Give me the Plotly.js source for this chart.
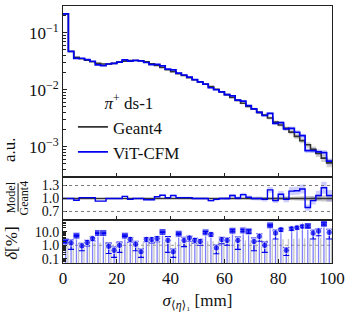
<!DOCTYPE html>
<html><head><meta charset="utf-8">
<script src="https://cdn.plot.ly/plotly-3.0.1.min.js"></script>
<style>html,body{margin:0;padding:0;background:#fff}#c{width:352px;height:313px}</style>
</head><body><div id="c"></div>
<script>
// bin centers (mm), bin width 2
const binCenters = [1,3,5,7,9,11,13,15,17,19,21,23,25,27,29,31,33,35,37,39,41,43,45,47,49,51,53,55,57,59,61,63,65,67,69,71,73,75,77,79,81,83,85,87,89,91,93,95,97,99];
// Geant4 normalised histogram (a.u.)
const geant4 = [0.215,0.047,0.037,0.035,0.033,0.031,0.029,0.0283,0.0283,0.029,
  0.0305,0.0318,0.0325,0.0327,0.0322,0.031,0.0285,0.0268,0.0245,0.0225,
  0.0208,0.0192,0.0178,0.0163,0.0150,0.0137,0.0125,0.0114,0.0102,0.0092,
  0.0082,0.0073,0.0065,0.0058,0.0051,0.0046,0.0040,0.0036,0.0032,0.0027,
  0.0024,0.0021,0.0018,0.00152,0.00128,0.00108,0.00090,0.00076,0.00063,0.00052];
// Model / Geant4 ratio
const ratio = [1.0,1.0,0.96,1.02,1.02,1.02,0.94,0.94,1.0,1.0,
  1.0,1.05,0.98,1.0,1.0,0.97,0.97,1.04,1.075,1.02,
  1.07,1.02,1.02,1.02,1.0,1.0,1.0,0.95,0.98,1.0,
  1.0,1.07,1.01,1.09,1.03,1.0,1.0,0.98,1.2,0.95,
  1.1,0.98,1.17,1.18,1.22,0.79,0.95,1.07,1.25,1.07];
// relative statistical uncertainties
const relErrG = [0.002,0.004,0.005,0.005,0.005,0.005,0.005,0.005,0.005,0.005,
  0.005,0.005,0.005,0.005,0.005,0.006,0.006,0.006,0.007,0.007,
  0.008,0.008,0.009,0.009,0.010,0.011,0.011,0.012,0.013,0.014,
  0.015,0.016,0.018,0.019,0.021,0.023,0.025,0.027,0.030,0.032,
  0.035,0.038,0.042,0.046,0.050,0.055,0.060,0.066,0.072,0.080];
const relErrM = [0.004,0.008,0.01,0.01,0.01,0.01,0.012,0.012,0.012,0.012,
  0.012,0.012,0.012,0.012,0.013,0.013,0.014,0.015,0.016,0.017,
  0.018,0.019,0.02,0.021,0.022,0.024,0.025,0.027,0.028,0.03,
  0.032,0.034,0.036,0.038,0.04,0.043,0.046,0.05,0.055,0.06,
  0.065,0.07,0.075,0.08,0.085,0.09,0.095,0.1,0.11,0.12];
// delta [%] per bin
const deltaPct = [1.9,1.5,5.1,0.9,1.6,3.1,7.9,7.9,0.85,0.43,
  1.0,5.1,2.7,1.2,0.33,2.7,2.6,3.1,9.4,2.3,
  0.33,7.1,2.3,3.4,2.3,1.9,8.9,6.3,0.64,2.6,
  2.3,11.8,2.3,12.3,10.5,1.9,4.5,1.0,29,7.9,
  14,0.43,16.5,19.5,24.5,26,7.9,11,38,8.9];
const deltaErr = [0.3,1.0,0.5,0.5,0.7,1.0,0.5,0.5,0.6,0.3,
  0.7,0.6,1.0,0.8,0.2,0.9,1.1,1.3,0.5,2.0,
  0.2,0.8,1.5,1.4,0.9,0.9,1.3,1.8,0.4,1.3,
  1.3,2,1.8,2,3,1.5,2.5,0.7,3,5,
  3.5,0.25,4,4,5,5,5,6,7,6];
const deltaSym = ['s','c','s','c','c','c','s','s','c','c',
  'c','s','c','c','c','c','c','c','s','c',
  'c','s','c','c','c','c','s','c','c','c',
  'c','s','c','s','s','c','c','c','s','c',
  'c','c','c','c','c','s','c','c','s','c'];
// Geant4 reference uncertainty level in delta panel [%]
const refLevel = [1.5,1.6,1.6,1.6,1.7,1.6,1.6,1.7,1.6,1.7,
  1.7,1.6,1.7,1.7,1.6,1.7,1.7,1.7,1.8,1.7,
  1.8,1.8,1.8,1.9,1.9,1.9,2.0,2.0,2.0,2.1,
  2.1,2.2,2.2,2.3,2.3,2.4,2.5,2.5,2.6,2.7,
  2.8,2.9,3.0,3.1,3.2,3.3,3.4,3.5,3.6,3.7];
const xTicks = [0,20,40,60,80,100];

const BLUE = '#0000ee';
const FONT = 'Liberation Serif, DejaVu Serif, serif';
const edges = binCenters.map(c => c - 1).concat([binCenters[binCenters.length-1] + 1]);
const stepY = a => a.concat([a[a.length-1]]);
const model = geant4.map((g,i) => g * ratio[i]);

const traces = [];
function band(lo, hi, color, xa, ya) {
  traces.push({x: edges, y: stepY(lo), mode:'lines', line:{shape:'hv', width:0, color:color}, xaxis:xa, yaxis:ya, showlegend:false, hoverinfo:'skip'});
  traces.push({x: edges, y: stepY(hi), mode:'lines', line:{shape:'hv', width:0, color:color}, fill:'tonexty', fillcolor:color, xaxis:xa, yaxis:ya, showlegend:false, hoverinfo:'skip'});
}
// main panel
band(geant4.map((g,i)=>g*(1-relErrG[i]*2)), geant4.map((g,i)=>g*(1+relErrG[i]*2)), 'rgba(120,120,120,0.35)', 'x3', 'y');
band(model.map((m,i)=>m*(1-relErrM[i])), model.map((m,i)=>m*(1+relErrM[i])), 'rgba(60,60,255,0.25)', 'x3', 'y');
traces.push({x: edges, y: stepY(geant4), mode:'lines', name:'Geant4', line:{shape:'hv', width:1.6, color:'#333333'}, xaxis:'x3', yaxis:'y'});
traces.push({x: edges, y: stepY(model), mode:'lines', name:'ViT-CFM', line:{shape:'hv', width:1.7, color:BLUE}, xaxis:'x3', yaxis:'y'});
// ratio panel
band(relErrG.map(e=>1-e), relErrG.map(e=>1+e), 'rgba(120,120,120,0.4)', 'x2', 'y2');
band(ratio.map((r,i)=>r*(1-relErrM[i])), ratio.map((r,i)=>r*(1+relErrM[i])), 'rgba(60,60,255,0.25)', 'x2', 'y2');
traces.push({x:[0,100], y:[1,1], mode:'lines', line:{width:1.4, color:'#333333'}, xaxis:'x2', yaxis:'y2', showlegend:false});
traces.push({x: edges, y: stepY(ratio), mode:'lines', line:{shape:'hv', width:1.4, color:BLUE}, xaxis:'x2', yaxis:'y2', showlegend:false});
// delta panel stems
const gx=[], gy=[], bx=[], by=[];
binCenters.forEach((c,i) => {
  gx.push(c+0.8, c+0.8, null); gy.push(0.01, refLevel[i], null);
  bx.push(c, c, null); by.push(0.01, deltaPct[i], null);
});
traces.push({x:gx, y:gy, mode:'lines', line:{width:1.3, color:'rgba(150,150,150,0.55)'}, xaxis:'x', yaxis:'y3', showlegend:false, connectgaps:false});
traces.push({x:bx, y:by, mode:'lines', line:{width:1.3, color:'rgba(40,40,255,0.6)'}, xaxis:'x', yaxis:'y3', showlegend:false, connectgaps:false});
traces.push({x: binCenters, y: deltaPct, mode:'markers',
  marker:{color:BLUE, size:deltaSym.map(s=>s==='s'?7:6.5), symbol:deltaSym.map(s=>s==='s'?'square':'circle')},
  error_y:{type:'data', array:deltaErr, color:BLUE, thickness:1.1, width:3},
  xaxis:'x', yaxis:'y3', showlegend:false});

const axisBase = {showline:true, mirror:true, linecolor:'#222', linewidth:1, ticks:'inside', ticklen:4, tickcolor:'#222', showgrid:false, zeroline:false,
  tickfont:{family:FONT, size:14, color:'#111'}};
const ann = (x, y, text, size) => ({xref:'paper', yref:'paper', x:x, y:y, xanchor:'center', yanchor:'middle', text:text, textangle:-90, showarrow:false, font:{family:FONT, size:size, color:'#111'}});
const layout = {
  width:352, height:313, margin:{l:63, r:20, t:6, b:50}, paper_bgcolor:'#fff', plot_bgcolor:'#fff',
  font:{family:FONT, color:'#111'},
  xaxis: Object.assign({}, axisBase, {anchor:'y3', range:[0,100], tickvals:xTicks, ticktext:xTicks.map(String),
    tickfont:{family:FONT, size:17, color:'#111'},
    title:{text:'<i>σ</i><sub>⟨<i>η</i>⟩₁</sub> [mm]', font:{family:FONT, size:17, color:'#111'}, standoff:6}}),
  xaxis2: Object.assign({}, axisBase, {anchor:'y2', matches:'x', range:[0,100], tickvals:xTicks, showticklabels:false}),
  xaxis3: Object.assign({}, axisBase, {anchor:'y', matches:'x', range:[0,100], tickvals:xTicks, showticklabels:false}),
  yaxis: Object.assign({}, axisBase, {domain:[0.335,1], anchor:'x3', type:'log', range:[-3.53,-0.53],
    tickvals:[0.001,0.01,0.1], ticktext:['10<sup>−3</sup>','10<sup>−2</sup>','10<sup>−1</sup>'],
    tickfont:{family:FONT, size:17, color:'#111'},
    minor:{ticks:'inside', ticklen:2.5, tickcolor:'#222', dtick:'D1'}}),
  yaxis2: Object.assign({}, axisBase, {domain:[0.167,0.335], anchor:'x2', range:[0.5,1.5],
    tickvals:[0.7,1.0,1.3], ticktext:['0.7','1.0','1.3']}),
  yaxis3: Object.assign({}, axisBase, {domain:[0,0.167], anchor:'x', type:'log', range:[-1.3,1.85],
    tickvals:[0.1,1,10], ticktext:['0.1','1.0','10.0'],
    minor:{ticks:'inside', ticklen:2.5, tickcolor:'#222', dtick:'D1'}}),
  shapes:[
    {type:'line', xref:'x2', yref:'y2', x0:0, x1:100, y0:1.3, y1:1.3, line:{color:'#777', width:1, dash:'dot'}},
    {type:'line', xref:'x2', yref:'y2', x0:0, x1:100, y0:0.7, y1:0.7, line:{color:'#777', width:1, dash:'dot'}},
    {type:'line', xref:'x', yref:'y3', x0:0, x1:100, y0:1, y1:1, line:{color:'#999', width:1, dash:'dot'}, layer:'below'},
    {type:'line', xref:'paper', yref:'paper', x0:-0.167, x1:-0.167, y0:0.2, y1:0.31, line:{color:'#111', width:1}}
  ],
  annotations:[
    ann(-0.197, 0.44, 'a.u.', 17),
    ann(-0.19, 0.255, 'Model', 12),
    ann(-0.145, 0.255, 'Geant4', 12),
    ann(-0.19, 0.078, '<i>δ</i>[%]', 17)
  ],
  legend:{x:0.037, y:0.684, xanchor:'left', yanchor:'top', bgcolor:'rgba(0,0,0,0)', borderwidth:0, traceorder:'normal',
    font:{family:FONT, size:17, color:'#111'}, itemwidth:30, tracegroupgap:0,
    title:{text:'<i>π</i><sup>+</sup> ds-1', side:'top center', font:{family:FONT, size:17, color:'#111'}}},
  showlegend:true
};
Plotly.newPlot('c', traces, layout, {staticPlot:true, displayModeBar:false});
</script></body></html>
